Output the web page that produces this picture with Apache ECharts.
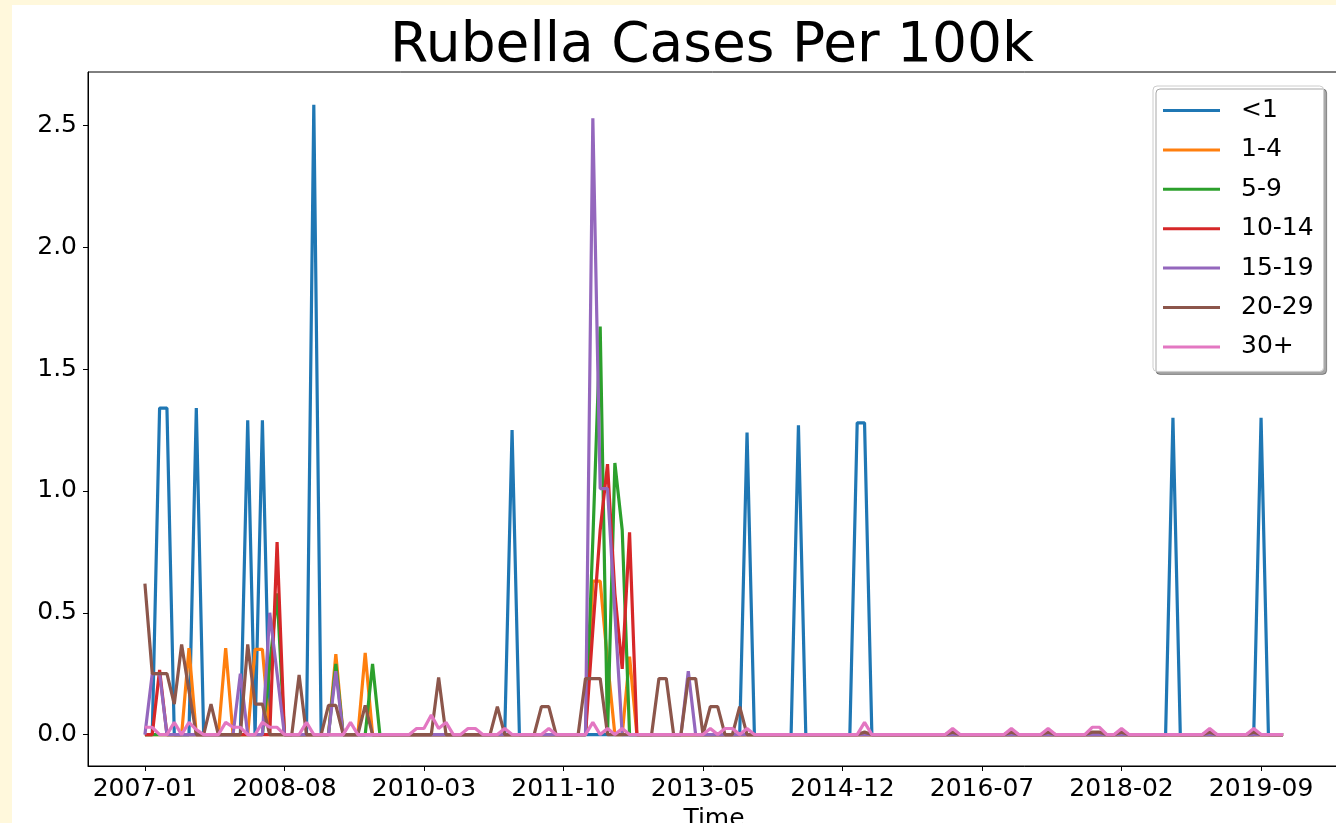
<!DOCTYPE html>
<html>
<head>
<meta charset="utf-8">
<title>Rubella Cases Per 100k</title>
<script src="https://cdn.jsdelivr.net/npm/echarts@6/dist/echarts.min.js"></script>
<style>
  html, body { margin: 0; padding: 0; background: #fff8dc; }
  #chart { width: 1336px; height: 823px; }
</style>
</head>
<body>
<div id="chart"></div>
<script>
// monthly points, 2007-01 .. 2019-12 (one row per year)
const months = []
for (let y = 2007; y <= 2019; y++) {
    for (let m = 1; m <= 12; m++) months.push(y + '-' + (m < 10 ? '0' + m : m))
}
const tickIndex = [0, 19, 38, 57, 76, 95, 114, 133, 152]
const yTicks = [0, 0.5, 1.0, 1.5, 2.0, 2.5]
const ageGroups = ['<1', '1-4', '5-9', '10-14', '15-19', '20-29', '30+']
const colors = ['#1f77b4', '#ff7f0e', '#2ca02c', '#d62728', '#9467bd', '#8c564b', '#e377c2']

const under1 = [
    0, 0, 1.34, 1.34, 0, 0, 0, 1.34, 0, 0, 0, 0,
    0, 0, 1.29, 0, 1.29, 0, 0, 0, 0, 0, 0, 2.585,
    0, 0, 0, 0, 0, 0, 0, 0, 0, 0, 0, 0,
    0, 0, 0, 0, 0, 0, 0, 0, 0, 0, 0, 0,
    0, 0, 1.25, 0, 0, 0, 0, 0, 0, 0, 0, 0,
    0, 0, 0, 0, 0, 0, 0, 0, 0, 0, 0, 0,
    0, 0, 0, 0, 0, 0, 0, 0, 0, 0, 1.24, 0,
    0, 0, 0, 0, 0, 1.27, 0, 0, 0, 0, 0, 0,
    0, 1.28, 1.28, 0, 0, 0, 0, 0, 0, 0, 0, 0,
    0, 0, 0, 0, 0, 0, 0, 0, 0, 0, 0, 0,
    0, 0, 0, 0, 0, 0, 0, 0, 0, 0, 0, 0,
    0, 0, 0, 0, 0, 0, 0, 0, 1.30, 0, 0, 0,
    0, 0, 0, 0, 0, 0, 0, 0, 1.30, 0, 0, 0
]
const age1to4 = [
    0, 0, 0, 0, 0, 0, 0.355, 0, 0, 0, 0, 0.355,
    0, 0, 0, 0.35, 0.35, 0, 0, 0, 0, 0, 0, 0,
    0, 0, 0.33, 0, 0, 0, 0.335, 0, 0, 0, 0, 0,
    0, 0, 0, 0, 0, 0, 0, 0, 0, 0, 0, 0,
    0, 0, 0, 0, 0, 0, 0, 0, 0, 0, 0, 0,
    0, 0.63, 0.63, 0.3, 0, 0, 0.32, 0, 0, 0, 0, 0,
    0, 0, 0, 0, 0, 0, 0, 0, 0, 0, 0, 0,
    0, 0, 0, 0, 0, 0, 0, 0, 0, 0, 0, 0,
    0, 0, 0, 0, 0, 0, 0, 0, 0, 0, 0, 0,
    0, 0, 0, 0, 0, 0, 0, 0, 0, 0, 0, 0,
    0, 0, 0, 0, 0, 0, 0, 0, 0, 0, 0, 0,
    0, 0, 0, 0, 0, 0, 0, 0, 0, 0, 0, 0,
    0, 0, 0, 0, 0, 0, 0, 0, 0, 0, 0, 0
]
const age5to9 = [
    0, 0, 0, 0, 0, 0, 0, 0, 0, 0, 0, 0,
    0, 0, 0, 0, 0, 0.28, 0.58, 0, 0, 0, 0, 0,
    0, 0, 0.29, 0, 0, 0, 0, 0.29, 0, 0, 0, 0,
    0, 0, 0, 0, 0, 0, 0, 0, 0, 0, 0, 0,
    0, 0, 0, 0, 0, 0, 0, 0, 0, 0, 0, 0,
    0, 0.8, 1.675, 0, 1.115, 0.84, 0, 0, 0, 0, 0, 0,
    0, 0, 0, 0, 0, 0, 0, 0, 0, 0, 0, 0,
    0, 0, 0, 0, 0, 0, 0, 0, 0, 0, 0, 0,
    0, 0, 0, 0, 0, 0, 0, 0, 0, 0, 0, 0,
    0, 0, 0, 0, 0, 0, 0, 0, 0, 0, 0, 0,
    0, 0, 0, 0, 0, 0, 0, 0, 0, 0, 0, 0,
    0, 0, 0, 0, 0, 0, 0, 0, 0, 0, 0, 0,
    0, 0, 0, 0, 0, 0, 0, 0, 0, 0, 0, 0
]
const age10to14 = [
    0, 0, 0.265, 0, 0, 0, 0, 0, 0, 0, 0, 0,
    0, 0, 0, 0, 0, 0, 0.79, 0, 0, 0, 0, 0,
    0, 0, 0, 0, 0, 0, 0, 0, 0, 0, 0, 0,
    0, 0, 0, 0, 0, 0, 0, 0, 0, 0, 0, 0,
    0, 0, 0, 0, 0, 0, 0, 0, 0, 0, 0, 0,
    0, 0.43, 0.84, 1.11, 0.58, 0.27, 0.83, 0, 0, 0, 0, 0,
    0, 0, 0, 0, 0, 0, 0, 0, 0, 0, 0, 0,
    0, 0, 0, 0, 0, 0, 0, 0, 0, 0, 0, 0,
    0, 0, 0, 0, 0, 0, 0, 0, 0, 0, 0, 0,
    0, 0, 0, 0, 0, 0, 0, 0, 0, 0, 0, 0,
    0, 0, 0, 0, 0, 0, 0, 0, 0, 0, 0, 0,
    0, 0, 0, 0, 0, 0, 0, 0, 0, 0, 0, 0,
    0, 0, 0, 0, 0, 0, 0, 0, 0, 0, 0, 0
]
const age15to19 = [
    0, 0.25, 0.25, 0, 0, 0, 0, 0, 0, 0, 0, 0,
    0, 0.25, 0, 0, 0, 0.5, 0.25, 0, 0, 0, 0, 0,
    0, 0, 0.26, 0, 0, 0, 0, 0, 0, 0, 0, 0,
    0, 0, 0, 0, 0, 0, 0, 0, 0, 0, 0, 0,
    0, 0, 0, 0, 0, 0, 0, 0, 0, 0, 0, 0,
    0, 2.53, 1.01, 1.01, 0.5, 0, 0, 0, 0, 0, 0, 0,
    0, 0, 0.26, 0, 0, 0, 0, 0, 0, 0, 0, 0,
    0, 0, 0, 0, 0, 0, 0, 0, 0, 0, 0, 0,
    0, 0, 0, 0, 0, 0, 0, 0, 0, 0, 0, 0,
    0, 0, 0, 0, 0, 0, 0, 0, 0, 0, 0, 0,
    0, 0, 0, 0, 0, 0, 0, 0, 0, 0, 0, 0,
    0, 0, 0, 0, 0, 0, 0, 0, 0, 0, 0, 0,
    0, 0, 0, 0, 0, 0, 0, 0, 0, 0, 0, 0
]
const age20to29 = [
    0.62, 0.25, 0.25, 0.25, 0.125, 0.37, 0.18, 0, 0, 0.125, 0, 0,
    0, 0, 0.37, 0.125, 0.125, 0, 0, 0, 0, 0.245, 0, 0,
    0, 0.12, 0.12, 0, 0, 0, 0.12, 0, 0, 0, 0, 0,
    0, 0, 0, 0, 0.235, 0, 0, 0, 0, 0, 0, 0,
    0.115, 0, 0, 0, 0, 0, 0.115, 0.115, 0, 0, 0, 0,
    0.23, 0.23, 0.23, 0, 0, 0, 0, 0, 0, 0, 0.23, 0.23,
    0, 0, 0.23, 0.23, 0, 0.115, 0.115, 0, 0, 0.115, 0, 0,
    0, 0, 0, 0, 0, 0, 0, 0, 0, 0, 0, 0,
    0, 0, 0.01, 0, 0, 0, 0, 0, 0, 0, 0, 0,
    0, 0, 0.01, 0, 0, 0, 0, 0, 0, 0, 0.01, 0,
    0, 0, 0, 0.01, 0, 0, 0, 0, 0, 0.01, 0.01, 0,
    0, 0.01, 0, 0, 0, 0, 0, 0, 0, 0, 0, 0,
    0, 0.01, 0, 0, 0, 0, 0, 0.01, 0, 0, 0, 0
]
const age30plus = [
    0.03, 0.03, 0, 0, 0.05, 0, 0.05, 0.02, 0, 0, 0, 0.05,
    0.03, 0.03, 0, 0, 0.05, 0.03, 0.03, 0, 0, 0, 0.05, 0,
    0, 0, 0, 0, 0.05, 0, 0, 0, 0, 0, 0, 0,
    0, 0.025, 0.025, 0.08, 0.025, 0.05, 0, 0, 0.025, 0.025, 0, 0,
    0, 0.025, 0, 0, 0, 0, 0, 0.025, 0, 0, 0, 0,
    0, 0.05, 0, 0.025, 0, 0.025, 0, 0, 0, 0, 0, 0,
    0, 0, 0, 0, 0, 0.025, 0, 0.025, 0.025, 0, 0.025, 0,
    0, 0, 0, 0, 0, 0, 0, 0, 0, 0, 0, 0,
    0, 0, 0.05, 0, 0, 0, 0, 0, 0, 0, 0, 0,
    0, 0, 0.025, 0, 0, 0, 0, 0, 0, 0, 0.025, 0,
    0, 0, 0, 0.025, 0, 0, 0, 0, 0, 0.03, 0.03, 0,
    0, 0.025, 0, 0, 0, 0, 0, 0, 0, 0, 0, 0,
    0, 0.025, 0, 0, 0, 0, 0, 0.025, 0, 0, 0, 0
]
const seriesValues = [under1, age1to4, age5to9, age10to14, age15to19, age20to29, age30plus]

const font = 'DejaVu Sans'
const chart = echarts.init(document.getElementById('chart'))

chart.setOption({
    animation: false,
    backgroundColor: '#fff8dc',
    graphic: [{
        type: 'rect',
        z: -10,
        shape: { x: 12, y: 5, width: 1324, height: 818 },
        style: { fill: '#ffffff' }
    }],
    title: {
        text: 'Rubella Cases Per 100k',
        left: 712,
        top: 19,
        textAlign: 'center',
        padding: 0,
        textStyle: { fontFamily: font, fontSize: 55, fontWeight: 'normal', color: '#000' }
    },
    legend: {
        orient: 'vertical',
        left: 1153,
        top: 86,
        padding: [12, 10, 12, 10],
        icon: 'rect',
        itemWidth: 57,
        itemHeight: 3,
        itemGap: 14.4,
        backgroundColor: '#fff',
        borderColor: '#cccccc',
        borderWidth: 1,
        borderRadius: 4,
        shadowColor: 'rgba(0,0,0,0.35)',
        shadowBlur: 0,
        shadowOffsetX: 3,
        shadowOffsetY: 3,
        textStyle: { fontFamily: font, fontSize: 25, color: '#000', padding: [0, 0, 0, 16] }
    },
    grid: {
        left: 88,
        top: 72,
        width: 1252,
        height: 694,
        outerBoundsMode: 'none',
        containLabel: false,
        show: true,
        borderColor: '#000',
        borderWidth: 1,
        backgroundColor: 'transparent'
    },
    xAxis: {
        type: 'value',
        min: -7.75,
        max: 162.75,
        name: 'Time',
        nameLocation: 'middle',
        nameGap: 37,
        nameTextStyle: { fontFamily: font, fontSize: 25, color: '#000' },
        axisLine: { show: true, onZero: false, lineStyle: { color: '#000', width: 1 } },
        axisTick: { show: true, customValues: tickIndex, length: 5, lineStyle: { color: '#000' } },
        axisLabel: {
            customValues: tickIndex,
            margin: 11,
            fontFamily: font,
            fontSize: 25,
            color: '#000',
            formatter: v => months[v]
        },
        splitLine: { show: false }
    },
    yAxis: {
        type: 'value',
        min: -0.129,
        max: 2.72,
        axisLine: { show: true, onZero: false, lineStyle: { color: '#000', width: 1 } },
        axisTick: { show: true, customValues: yTicks, length: 5, lineStyle: { color: '#000' } },
        axisLabel: {
            customValues: yTicks,
            margin: 11,
            fontFamily: font,
            fontSize: 25,
            color: '#000',
            formatter: v => v.toFixed(1)
        },
        splitLine: { show: false }
    },
    series: ageGroups.map((name, k) => ({
        name: name,
        type: 'line',
        symbol: 'none',
        color: colors[k],
        lineStyle: { width: 3.2, color: colors[k] },
        data: seriesValues[k].map((v, i) => [i, v])
    }))
})
</script>
</body>
</html>
